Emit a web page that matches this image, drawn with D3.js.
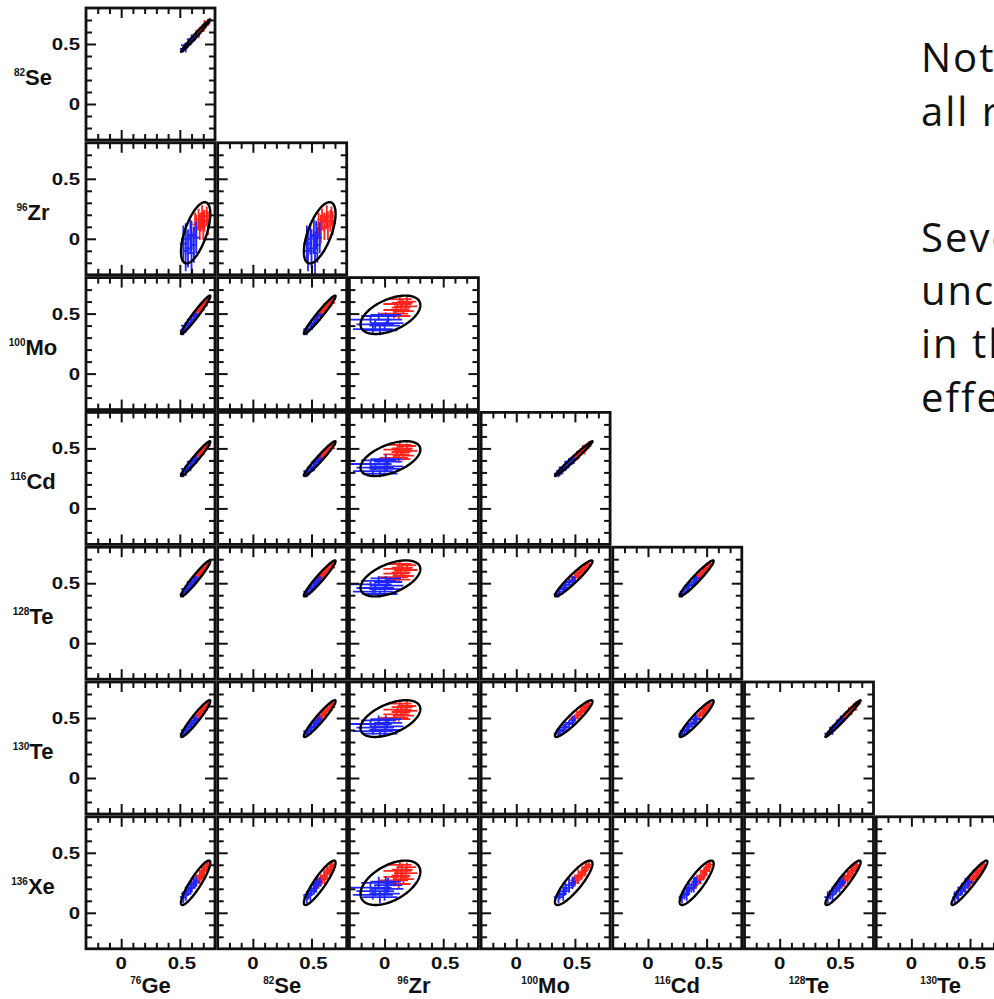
<!DOCTYPE html>
<html>
<head>
<meta charset="utf-8">
<script src="https://cdn.jsdelivr.net/npm/d3@7"></script>
<style>
  html, body { margin: 0; padding: 0; background: #fff; overflow: hidden; }
  svg { display: block; }
</style>
</head>
<body>
<svg id="chart" width="994" height="999"></svg>
<script>
// Isotopes (mass number + element symbol)
const masses  = ["76", "82", "96", "100", "116", "128", "130", "136"];
const symbols = ["Ge", "Se", "Zr", "Mo", "Cd", "Te", "Te", "Xe"];

// Calculation groups: first nine blue, last ten red
const calcGroup = ["b","b","b","b","b","b","b","b","b",
                   "r","r","r","r","r","r","r","r","r","r"];

// Values of each calculation per isotope
const ge76  = [0.53,0.55,0.55,0.57,0.59,0.60,0.60,0.62,0.64, 0.63,0.64,0.66,0.67,0.68,0.69,0.70,0.71,0.73,0.74];
const se82  = [0.46,0.47,0.49,0.50,0.52,0.53,0.54,0.55,0.57, 0.56,0.58,0.59,0.61,0.61,0.63,0.64,0.66,0.67,0.68];
const zr96  = [-0.04,-0.10,0.00,-0.08,0.02,-0.12,0.03,-0.05,0.01, 0.12,0.08,0.16,0.10,0.14,0.18,0.11,0.15,0.19,0.13];
const mo100 = [0.36,0.37,0.40,0.41,0.42,0.45,0.45,0.48,0.49, 0.48,0.50,0.52,0.53,0.55,0.56,0.58,0.59,0.60,0.62];
const cd116 = [0.29,0.31,0.33,0.34,0.35,0.37,0.39,0.40,0.41, 0.41,0.42,0.44,0.45,0.47,0.48,0.49,0.50,0.52,0.53];
const te128 = [0.41,0.43,0.45,0.46,0.48,0.49,0.51,0.52,0.54, 0.53,0.55,0.56,0.58,0.59,0.61,0.62,0.63,0.65,0.66];
const te130 = [0.37,0.39,0.40,0.42,0.43,0.45,0.46,0.48,0.49, 0.49,0.50,0.52,0.53,0.55,0.56,0.57,0.59,0.60,0.62];
const xe136 = [0.13,0.15,0.16,0.18,0.20,0.21,0.23,0.25,0.26, 0.24,0.27,0.28,0.30,0.31,0.33,0.35,0.36,0.38,0.40];

// Uncertainties of each calculation per isotope
const ge76Err  = [0.03,0.02,0.04,0.03,0.02,0.03,0.04,0.02,0.03, 0.02,0.03,0.02,0.04,0.03,0.02,0.03,0.02,0.03,0.02];
const se82Err  = [0.03,0.04,0.02,0.03,0.03,0.02,0.04,0.03,0.02, 0.03,0.02,0.04,0.03,0.02,0.03,0.02,0.04,0.02,0.03];
const zr96Err  = [0.15,0.17,0.13,0.16,0.14,0.18,0.12,0.15,0.13, 0.10,0.12,0.09,0.11,0.08,0.10,0.12,0.09,0.08,0.10];
const mo100Err = [0.04,0.03,0.03,0.04,0.02,0.03,0.04,0.03,0.02, 0.03,0.04,0.02,0.03,0.04,0.03,0.02,0.03,0.04,0.02];
const cd116Err = [0.03,0.04,0.03,0.02,0.04,0.03,0.03,0.02,0.04, 0.03,0.02,0.04,0.03,0.03,0.02,0.04,0.03,0.02,0.03];
const te128Err = [0.03,0.02,0.03,0.04,0.03,0.02,0.03,0.04,0.02, 0.03,0.03,0.02,0.04,0.03,0.02,0.03,0.03,0.02,0.03];
const te130Err = [0.02,0.03,0.04,0.03,0.02,0.03,0.02,0.04,0.03, 0.02,0.03,0.03,0.02,0.04,0.03,0.02,0.03,0.04,0.02];
const xe136Err = [0.05,0.04,0.06,0.04,0.05,0.04,0.06,0.05,0.04, 0.04,0.05,0.04,0.06,0.04,0.05,0.04,0.05,0.04,0.03];

// Ellipse centre and half-extent per isotope
const ellCenter = [0.635, 0.570, 0.050, 0.490, 0.415, 0.540, 0.495, 0.250];
const ellHalf   = [0.125, 0.135, 0.255, 0.160, 0.145, 0.150, 0.153, 0.185];

// Correlation coefficients (row isotope vs column isotope), lower triangle
const corrRows = [
  [0.99],
  [0.62, 0.62],
  [0.97, 0.97, 0.50],
  [0.97, 0.97, 0.52, 0.988],
  [0.96, 0.96, 0.52, 0.95, 0.96],
  [0.95, 0.95, 0.52, 0.93, 0.94, 0.988],
  [0.90, 0.90, 0.50, 0.86, 0.86, 0.93, 0.95]
];

// Axis ticks
const axisDomain  = [-0.3, 0.8];
const minorTicks  = [-0.2, -0.1, 0.1, 0.2, 0.3, 0.4, 0.6, 0.7];
const majorTicks  = [0, 0.5];
const majorLabels = ["0", "0.5"];

// Side notes
const noteLines = [
  "Note the strong correlations in",
  "all results.",
  "",
  "Several sources of",
  "uncertainty are shared",
  "in the models, e.g. the",
  "effective axial coupling."
];

const values = [ge76, se82, zr96, mo100, cd116, te128, te130, xe136];
const errors = [ge76Err, se82Err, zr96Err, mo100Err, cd116Err, te128Err, te130Err, xe136Err];

// ---------- layout ----------
const svg = d3.select("#chart");
const left0 = 86, colStep = 131.7, top0 = 8, rowStep = 134.8;
const pw = 129, ph = 132;
const nRows = corrRows.length;
const colors = { b: "#1f26ff", r: "#ff241c" };
const labelFont = "'Liberation Sans', Arial, Helvetica, sans-serif";

const x = d3.scaleLinear().domain(axisDomain).range([0, pw]);
const y = d3.scaleLinear().domain(axisDomain).range([ph, 0]);

const defs = svg.append("defs");
defs.append("clipPath").attr("id", "panel-clip")
  .append("rect").attr("x", 0).attr("y", 0).attr("width", pw).attr("height", ph);

function ticks(g, axisFn, vals, len) {
  g.call(axisFn.tickValues(vals).tickSize(-len).tickFormat(""));
  g.select(".domain").remove();
  g.selectAll(".tick line").attr("stroke", "#111").attr("stroke-width", 2);
}

function ellipsePath(ci, ri, rho) {
  const cx = ellCenter[ci], cy = ellCenter[ri];
  const hx = ellHalf[ci], hy = ellHalf[ri];
  const s = Math.sqrt(1 - rho * rho);
  const pts = d3.range(0, 2 * Math.PI, Math.PI / 90).map(t => [
    x(cx + hx * Math.cos(t)),
    y(cy + hy * (rho * Math.cos(t) + s * Math.sin(t)))
  ]);
  return d3.line().curve(d3.curveLinearClosed)(pts);
}

// bold tick label, widened horizontally
function tickLabel(g, px, py, anchor, str) {
  g.append("text")
    .attr("transform", `translate(${px},${py}) scale(1.2,1)`)
    .attr("text-anchor", anchor)
    .attr("font-family", labelFont).attr("font-weight", "bold")
    .attr("font-size", 17).attr("fill", "#111")
    .text(str);
}

function isotopeTitle(g, px, py, idx) {
  const t = g.append("text")
    .attr("x", px).attr("y", py)
    .attr("text-anchor", "middle")
    .attr("font-family", labelFont).attr("font-weight", "bold").attr("fill", "#111");
  t.append("tspan").attr("font-size", 10).attr("dy", -9).text(masses[idx]);
  t.append("tspan").attr("font-size", 22).attr("dy", 9).text(symbols[idx]);
}

for (let r = 0; r < nRows; r++) {
  const ri = r + 1;
  for (let c = 0; c <= r; c++) {
    const ci = c;
    const g = svg.append("g")
      .attr("transform", `translate(${left0 + c * colStep},${top0 + r * rowStep})`);

    // error-bar crosses, red calculations under blue ones
    const marks = g.append("g").attr("clip-path", "url(#panel-clip)");
    const order = d3.range(calcGroup.length).sort((a, b) =>
      (calcGroup[a] === "r" ? 0 : 1) - (calcGroup[b] === "r" ? 0 : 1) || a - b);
    order.forEach(k => {
      const vx = values[ci][k], vy = values[ri][k];
      const ex = errors[ci][k], ey = errors[ri][k];
      const col = colors[calcGroup[k]];
      marks.append("line")
        .attr("x1", x(vx - ex)).attr("x2", x(vx + ex))
        .attr("y1", y(vy)).attr("y2", y(vy))
        .attr("stroke", col).attr("stroke-width", 1.8);
      marks.append("line")
        .attr("x1", x(vx)).attr("x2", x(vx))
        .attr("y1", y(vy - ey)).attr("y2", y(vy + ey))
        .attr("stroke", col).attr("stroke-width", 1.8);
    });

    // confidence ellipse
    marks.append("path")
      .attr("d", ellipsePath(ci, ri, corrRows[r][c]))
      .attr("fill", "none").attr("stroke", "#000").attr("stroke-width", 2.4);

    // inward ticks on all four sides
    const bottom = g.append("g").attr("transform", `translate(0,${ph})`);
    ticks(bottom.append("g"), d3.axisBottom(x), minorTicks, 6);
    ticks(bottom.append("g"), d3.axisBottom(x), majorTicks, 10);
    const top = g.append("g");
    ticks(top.append("g"), d3.axisTop(x), minorTicks, 6);
    ticks(top.append("g"), d3.axisTop(x), majorTicks, 10);
    const lft = g.append("g");
    ticks(lft.append("g"), d3.axisLeft(y), minorTicks, 6);
    ticks(lft.append("g"), d3.axisLeft(y), majorTicks, 10);
    const rgt = g.append("g").attr("transform", `translate(${pw},0)`);
    ticks(rgt.append("g"), d3.axisRight(y), minorTicks, 6);
    ticks(rgt.append("g"), d3.axisRight(y), majorTicks, 10);

    // frame
    g.append("rect")
      .attr("x", 0).attr("y", 0).attr("width", pw).attr("height", ph)
      .attr("fill", "none").attr("stroke", "#111").attr("stroke-width", 2.8);

    // y tick labels and title on the first column
    if (c === 0) {
      majorTicks.forEach((v, i) => tickLabel(g, -6, y(v) + 6, "end", majorLabels[i]));
      isotopeTitle(g, 33 - left0, ph / 2 + 11, ri);
    }

    // x tick labels and title on the bottom row
    if (r === nRows - 1) {
      majorTicks.forEach((v, i) => tickLabel(g, x(v) + (i === 1 ? 2 : 0), ph + 20, "middle", majorLabels[i]));
      isotopeTitle(g, pw / 2, ph + 44, ci);
    }
  }
}

// notes on the right
const noteBaselines = [72, 126, 0, 252, 305, 358, 412];
const notes = svg.append("g")
  .attr("font-family", "'Comic Sans MS', 'Open Sans', sans-serif")
  .attr("font-size", 40).attr("letter-spacing", 2).attr("fill", "#111");
noteLines.forEach((line, i) => {
  if (!line) return;
  notes.append("text").attr("x", 921).attr("y", noteBaselines[i]).text(line);
});
</script>
</body>
</html>
